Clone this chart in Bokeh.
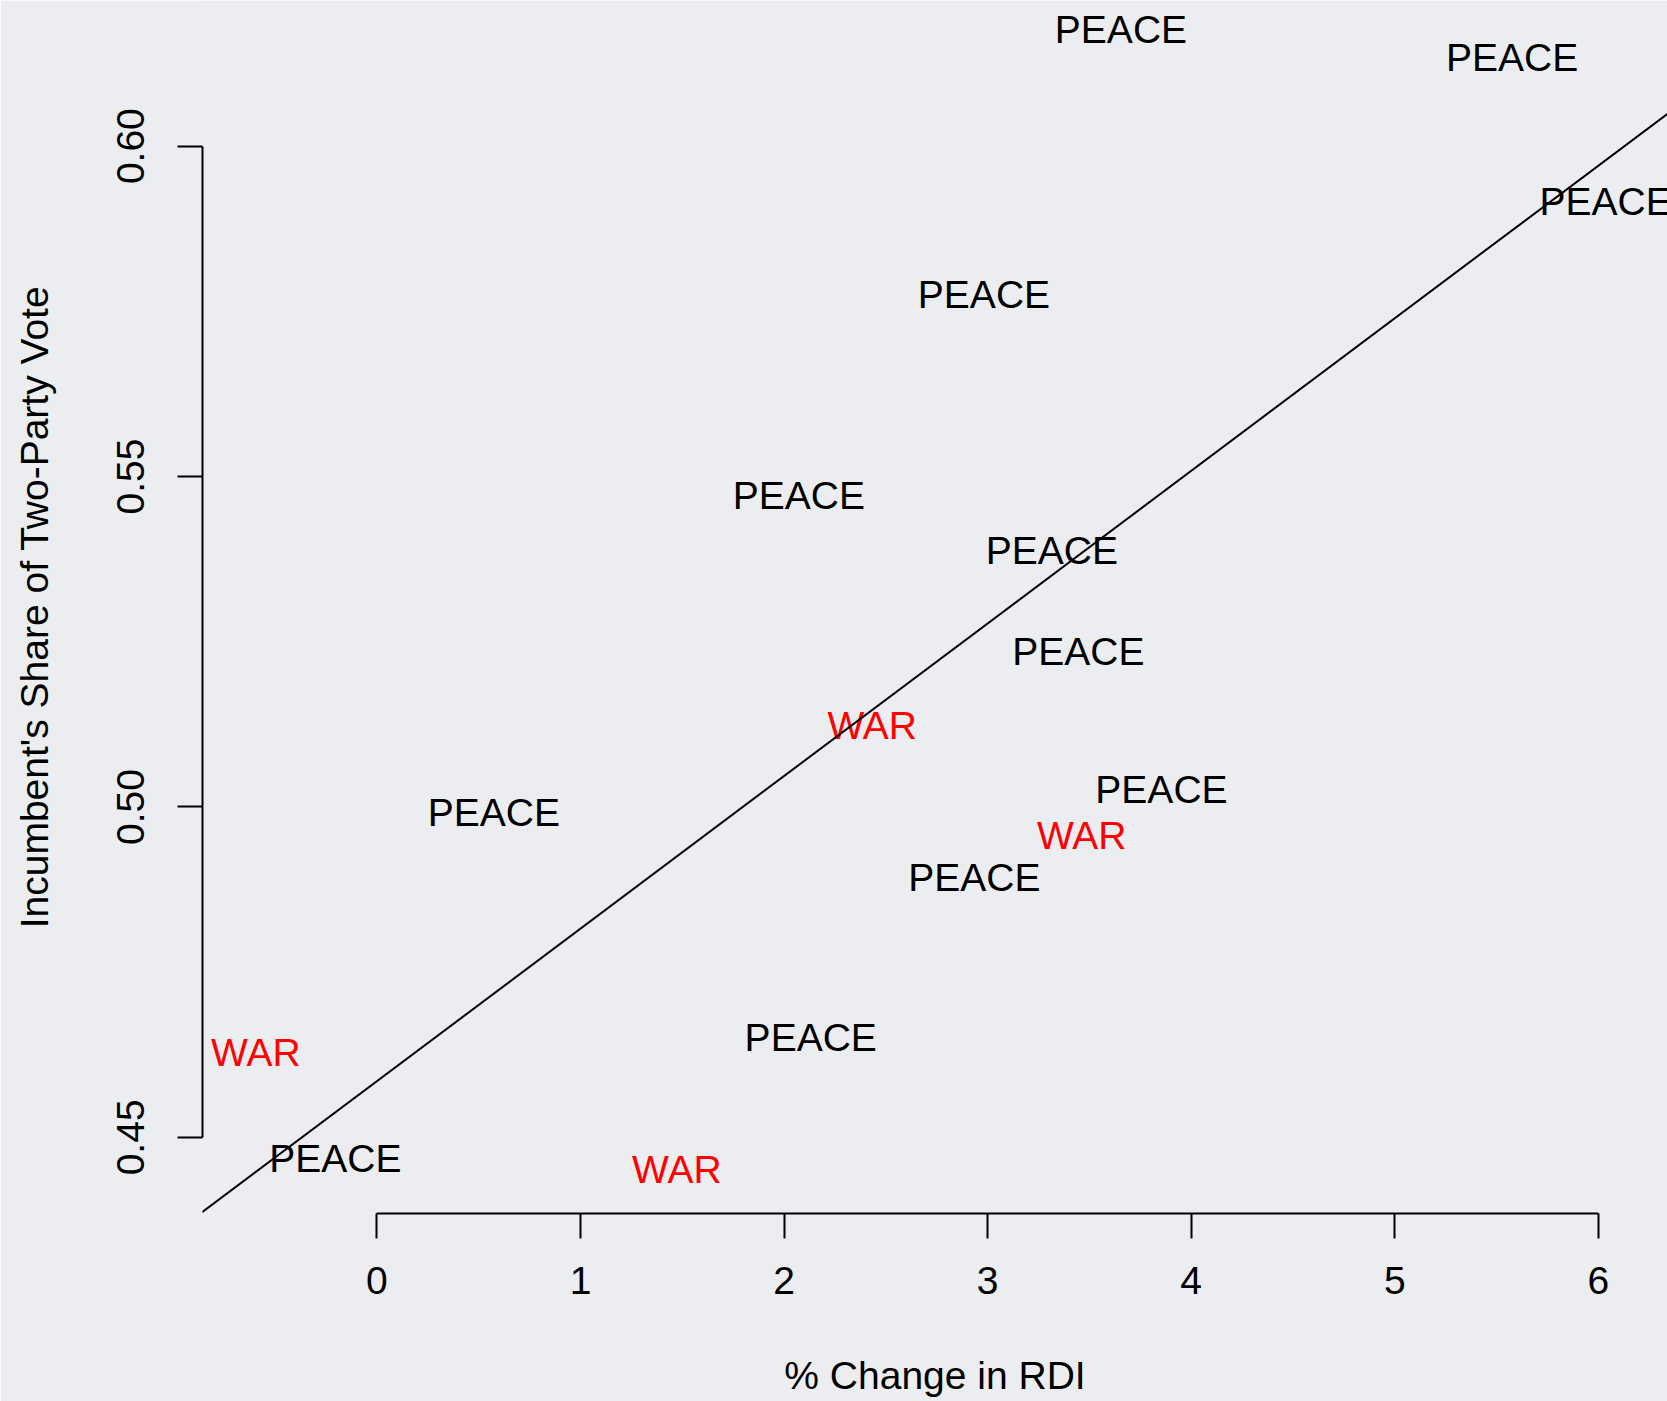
from bokeh.plotting import figure
from bokeh.models import ColumnDataSource, FixedTicker, PrintfTickFormatter, Slope, Range1d
from bokeh.core.properties import value
from bokeh.embed import file_html
from bokeh.resources import INLINE

# ---- data ----
rdi_change = [3.655, 5.577, 6.036, 2.982, 2.073, 3.316, 3.446, 2.433, 3.854,
              0.574, 3.462, 2.935, 2.131, -0.595, -0.204, 1.473]
vote_share = [0.6177, 0.6134, 0.5916, 0.5775, 0.5472, 0.5388, 0.5236, 0.5123, 0.5026,
              0.4991, 0.4957, 0.4893, 0.4651, 0.4629, 0.4468, 0.4452]
labels = ["PEACE", "PEACE", "PEACE", "PEACE", "PEACE", "PEACE", "PEACE", "WAR", "PEACE",
          "PEACE", "WAR", "PEACE", "PEACE", "WAR", "PEACE", "WAR"]
fit_intercept = 0.4585
fit_slope = 0.02309
x_ticks = [0, 1, 2, 3, 4, 5, 6]
y_ticks = [0.45, 0.50, 0.55, 0.60]

colors = ["#FF0000" if l == "WAR" else "#000000" for l in labels]
src = ColumnDataSource(dict(x=rdi_change, y=vote_share, t=labels, c=colors))

BG = "#ECEDF0"
FONT = "Liberation Sans"
FS = "39px"

p = figure(width=1667, height=1401, output_backend="svg", toolbar_location=None,
           x_range=Range1d(-0.857, 6.340), y_range=Range1d(0.43848, 0.62204),
           min_border_left=202, min_border_right=0, min_border_top=0, min_border_bottom=188,
           background_fill_color=BG, border_fill_color=BG)
p.outline_line_color = None
p.grid.visible = False

for ax in (p.xaxis[0], p.yaxis[0]):
    ax.axis_line_width = 2
    ax.major_tick_line_width = 2
    ax.major_tick_out = 25
    ax.major_tick_in = 0
    ax.minor_tick_line_color = None
    ax.major_label_text_font = FONT
    ax.major_label_text_font_size = FS
    ax.major_label_text_color = "#000000"
    ax.axis_label_text_font = FONT
    ax.axis_label_text_font_size = FS
    ax.axis_label_text_font_style = "normal"
    ax.axis_label_text_color = "#000000"

p.xaxis.ticker = FixedTicker(ticks=x_ticks)
p.xaxis.bounds = (x_ticks[0], x_ticks[-1])
p.xaxis.axis_label = "% Change in RDI"
p.xaxis.major_label_standoff = 28
p.xaxis.axis_label_standoff = 57

p.yaxis.ticker = FixedTicker(ticks=y_ticks)
p.yaxis.bounds = (y_ticks[0], y_ticks[-1])
p.yaxis.formatter = PrintfTickFormatter(format="%.2f")
p.yaxis.major_label_orientation = "parallel"
p.yaxis.axis_label = "Incumbent's Share of Two-Party Vote"
p.yaxis.major_label_standoff = 33
p.yaxis.axis_label_standoff = 59

p.add_layout(Slope(gradient=fit_slope, y_intercept=fit_intercept, line_color="#000000", line_width=2))

p.text(x="x", y="y", text="t", source=src, text_color="c", text_font=value(FONT),
       text_font_size=FS, text_align="center", text_baseline="middle")

open("out.html", "w").write(file_html(p, INLINE))
